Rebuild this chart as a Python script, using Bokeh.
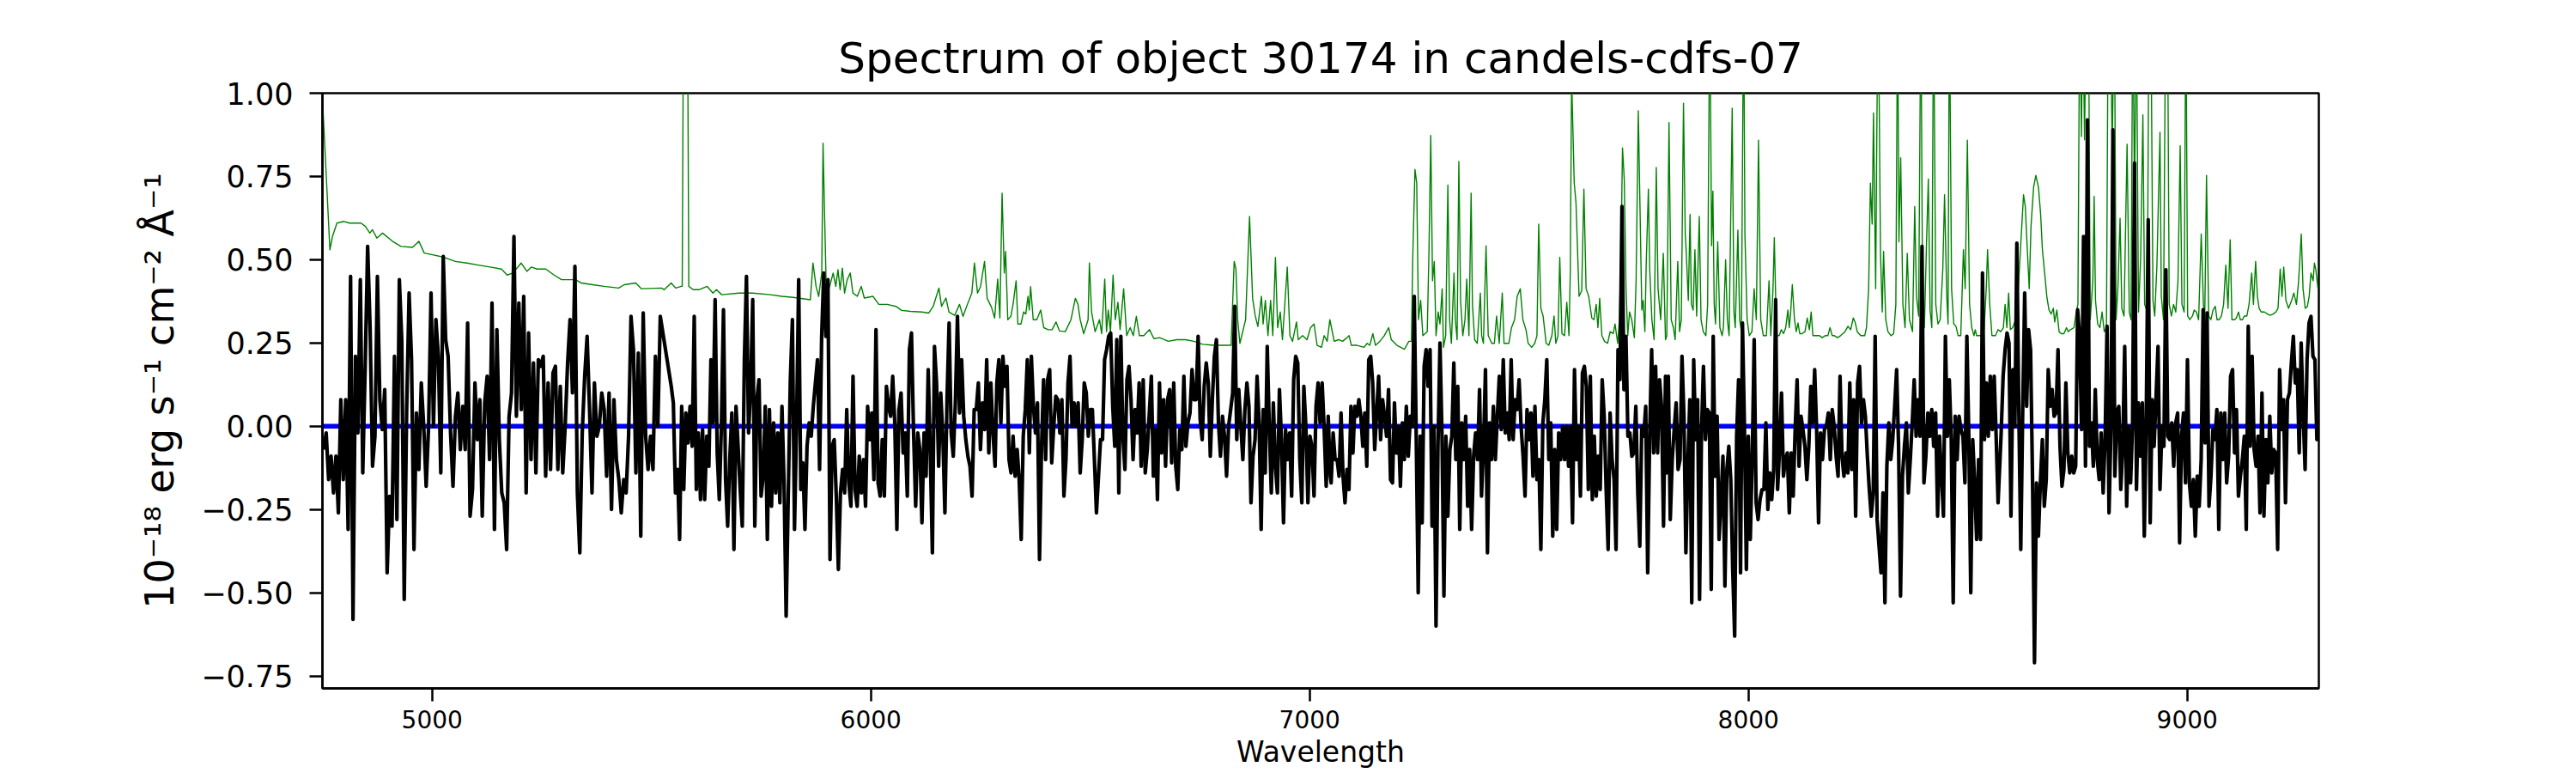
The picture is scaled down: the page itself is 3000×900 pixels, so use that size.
import numpy as np
from bokeh.plotting import figure
from bokeh.models import Range1d, FixedTicker, CustomJSTickFormatter
from bokeh.embed import file_html
from bokeh.resources import INLINE

TITLE = "Spectrum of object 30174 in candels-cdfs-07"
XLABEL = "Wavelength"
YLABEL = "10\u207b\u00b9\u2078 erg s\u207b\u00b9 cm\u207b\u00b2 \u00c5\u207b\u00b9"

x_ticks = [5000, 6000, 7000, 8000, 9000]
y_ticks = [-0.75, -0.5, -0.25, 0.0, 0.25, 0.5, 0.75, 1.0]

# flux, in six wavelength stretches
sec_ranges = [(4753, 5520), (5545, 6283), (6287, 7047), (7049, 7811), (7813, 8569), (8576, 9300)]

flux_s1 = [-0.07,-0.02,-0.16,-0.09,-0.20,-0.09,-0.26,0.08,-0.16,0.08,-0.31,0.45,-0.58,0.21,-0.02,0.44,-0.14,0.18,0.54,0.30,
           -0.12,-0.03,0.45,0.08,-0.01,0.11,-0.44,-0.21,-0.30,0.21,-0.28,0.44,0.26,-0.52,0.05,0.40,0.20,-0.37,0.04,-0.13,
           0.13,0.00,-0.18,0.00,0.40,0.00,0.32,0.21,-0.14,0.51,0.26,0.21,-0.02,-0.18,0.03,0.10,-0.07,0.06,-0.07,0.31,
           -0.27,-0.19,0.13,-0.04,0.08,-0.27,0.07,0.15,-0.10,0.37,-0.31,0.29,-0.04,-0.20,-0.23,-0.37,0.03,0.10,0.57,0.03,
           0.37,0.05,0.39,-0.20,0.28,-0.10,0.19,-0.14,0.20,0.18,0.21,-0.15,0.13,-0.13,0.16,0.18,-0.13,0.12,-0.14,0.00,
           0.19,0.32,0.10,0.48,-0.20,-0.38,-0.02,0.15,0.27,0.05,-0.20,0.13,-0.03,0.00,0.10,0.05,-0.15,0.10,-0.25,0.08,
           -0.10,-0.16,-0.26,-0.16,-0.20,-0.03,0.33,0.23,-0.14,0.22,-0.33,0.34,-0.03,-0.13,-0.03,-0.13,0.21,0.00,0.33]

flux_s2 = [0.12,0.07,-0.20,-0.13,-0.34,0.06,-0.19,0.04,-0.05,0.06,-0.06,0.33,-0.19,-0.02,-0.22,-0.01,-0.22,-0.03,-0.12,0.20,
           0.01,0.38,-0.08,-0.22,0.00,0.35,-0.16,-0.30,-0.10,0.04,-0.37,0.06,-0.06,-0.19,-0.30,0.20,0.45,-0.02,0.11,0.38,
           -0.30,0.08,0.14,-0.21,-0.15,0.06,-0.34,0.05,-0.24,0.01,-0.20,-0.02,-0.23,0.06,-0.17,-0.57,-0.21,0.14,0.32,-0.31,
           0.01,0.44,-0.19,-0.11,-0.31,-0.06,0.01,-0.03,0.06,0.13,0.20,-0.13,0.27,0.46,0.27,0.44,-0.40,-0.06,-0.04,-0.21,
           -0.43,-0.20,-0.13,-0.20,0.05,-0.17,-0.24,0.15,-0.19,-0.24,-0.09,-0.20,-0.10,-0.24,0.06,-0.04,0.04,-0.16,0.29,-0.17,
           -0.21,-0.04,-0.21,0.12,0.06,0.03,0.15,0.01,-0.31,0.05,0.10,-0.08,-0.02,-0.21,0.23,0.28,-0.02,-0.24,-0.02,-0.07,
           -0.29,-0.02,-0.15,0.17,-0.08,-0.38,0.24,0.13,-0.12,0.10,-0.03,-0.26,0.08,0.31,-0.02,-0.09,0.07,0.33,0.04,0.20,
           0.03,-0.04,-0.09,-0.12,-0.21,0.05,0.05,0.13,-0.07,0.07,-0.01,0.20,-0.08,0.13,-0.02,-0.12]

flux_s3 = [0.13,0.20,0.01,0.21,0.12,0.18,-0.10,-0.14,-0.03,-0.15,-0.07,-0.16,-0.34,-0.03,0.05,0.20,-0.08,0.21,0.06,-0.02,
           0.07,-0.40,-0.06,0.14,-0.10,0.14,0.17,-0.11,0.00,0.09,0.08,-0.02,0.08,-0.21,-0.10,0.13,0.21,0.00,0.07,0.00,
           0.07,-0.14,-0.04,0.13,0.10,-0.03,0.05,0.05,-0.10,-0.26,-0.15,-0.04,-0.04,0.20,0.23,0.27,0.28,0.06,-0.06,0.26,
           -0.20,0.27,-0.03,-0.13,0.14,0.18,0.08,-0.10,0.05,-0.02,0.13,-0.12,0.14,-0.14,-0.07,0.04,0.15,-0.15,-0.01,-0.22,
           0.13,-0.08,0.08,-0.12,0.08,0.11,-0.11,0.13,-0.12,-0.19,-0.01,-0.07,0.15,-0.06,0.01,0.04,0.17,0.08,0.08,0.27,
           0.02,-0.04,0.12,0.19,0.13,-0.09,0.08,0.21,0.26,0.01,-0.09,0.03,-0.03,-0.15,0.00,0.05,0.10,0.36,-0.04,0.11,
           0.00,-0.10,0.05,0.13,0.06,-0.23,-0.09,-0.04,0.15,0.01,-0.31,0.05,-0.14,0.24,0.00,-0.20,0.07,-0.12,-0.20,0.11,
           -0.04,-0.29,-0.01,-0.10,-0.02,-0.21,0.14,0.21,0.19,-0.10,-0.23,0.12,0.00,-0.23,-0.03,-0.06,-0.21,0.06,0.13,0.01,
           0.13,-0.01,-0.18,0.03,-0.15]

flux_s4 = [-0.17,-0.02,-0.10,-0.10,-0.15,0.04,-0.15,-0.23,-0.13,-0.19,0.06,-0.08,0.06,0.03,0.08,0.03,-0.06,0.04,-0.12,0.20,
           0.21,0.13,-0.07,0.04,0.15,-0.04,0.08,0.03,-0.03,0.11,-0.16,-0.17,0.07,-0.08,0.00,-0.18,0.01,-0.10,0.06,-0.09,
           0.03,0.00,0.39,-0.03,-0.50,-0.03,-0.29,0.18,0.23,0.12,0.23,-0.30,0.00,-0.60,-0.06,0.25,-0.02,-0.51,-0.03,-0.27,
           -0.07,-0.03,0.19,-0.10,0.12,-0.31,0.01,-0.10,0.03,-0.24,-0.07,-0.31,-0.09,-0.02,-0.10,0.11,-0.21,-0.06,0.17,-0.38,
           0.01,-0.10,0.06,-0.10,0.03,0.15,-0.01,0.20,-0.02,0.04,-0.04,0.20,-0.04,0.08,0.05,0.14,0.00,-0.09,-0.21,0.05,
           -0.04,0.04,-0.15,0.06,-0.16,-0.10,-0.37,0.01,0.08,0.20,-0.10,0.01,-0.33,-0.07,-0.31,-0.02,-0.10,0.00,-0.10,0.00,
           -0.12,0.00,-0.29,0.17,-0.10,0.00,-0.21,0.16,0.18,0.12,-0.19,0.15,-0.22,-0.03,-0.21,-0.09,-0.19,0.14,0.03,-0.19,
           -0.37,0.04,-0.10,-0.16,-0.37,0.23,0.14,0.66,0.11,0.27,-0.03,-0.02,-0.09,-0.08,0.06,-0.20,-0.36,0.00,-0.03,0.06,
           -0.44,-0.03,0.23,-0.08,0.18,-0.08,0.14,0.06,-0.30,0.15]

flux_s5 = [-0.14,0.15,-0.28,-0.10,-0.01,0.07,-0.13,-0.10,0.21,0.03,-0.38,-0.12,0.08,-0.53,0.20,-0.04,0.08,-0.52,-0.02,0.18,
           -0.04,0.05,0.04,-0.49,0.27,-0.15,0.03,-0.34,-0.22,-0.09,-0.48,-0.13,-0.06,-0.16,-0.43,-0.63,-0.03,0.14,-0.44,0.31,
           0.00,-0.43,-0.03,-0.34,-0.10,0.26,-0.23,-0.28,-0.22,-0.19,-0.19,0.01,-0.25,-0.14,-0.22,-0.13,0.38,-0.19,-0.07,0.10,
           -0.15,-0.10,-0.08,-0.26,-0.08,-0.21,-0.01,0.14,-0.12,0.03,-0.01,-0.06,-0.16,-0.06,0.12,0.01,0.17,-0.01,-0.29,-0.02,
           -0.10,-0.01,0.00,0.04,-0.10,0.05,0.00,-0.09,-0.15,0.15,-0.09,-0.15,-0.08,-0.14,0.13,-0.13,0.08,-0.27,0.13,0.18,
           0.01,0.08,0.03,-0.09,-0.19,-0.27,-0.20,0.27,-0.28,-0.36,-0.44,-0.20,-0.53,-0.12,0.01,-0.10,-0.04,0.06,0.17,-0.06,
           -0.51,-0.15,-0.06,0.01,-0.20,-0.10,0.01,0.14,-0.03,0.08,-0.03,0.54,-0.17,-0.09,0.04,-0.03,0.05,-0.06,0.04,-0.27,
           -0.03,-0.15,-0.27,0.27,-0.03,0.14,-0.04,-0.53,0.03,-0.10,0.03,-0.01,-0.03,-0.17,0.27,-0.03,-0.50,-0.04,-0.17,-0.34,
           -0.10,-0.34,0.46,-0.04,0.13,-0.03,0.15,-0.01,0.15,-0.03,-0.23]

flux_s6 = [-0.02,0.15,0.23,0.28,0.25,-0.27,0.17,0.00,0.55,0.05,-0.37,0.05,0.40,0.06,0.29,0.23,-0.16,-0.71,-0.17,-0.33,
           -0.17,-0.04,-0.24,-0.16,0.17,0.06,0.11,0.03,0.04,0.23,-0.06,-0.18,-0.13,0.13,-0.08,-0.14,-0.09,-0.14,-0.12,0.35,
           0.27,-0.01,0.57,-0.12,0.92,-0.06,0.01,-0.12,0.11,-0.10,-0.16,-0.02,-0.20,-0.04,0.30,-0.26,-0.01,0.89,-0.15,0.04,
           0.06,-0.19,-0.07,0.24,-0.24,0.00,-0.17,0.00,0.79,-0.19,0.07,-0.09,0.07,-0.33,0.03,0.62,-0.29,0.08,-0.06,0.09,
           0.24,-0.19,0.00,-0.06,0.47,-0.03,-0.04,0.01,-0.12,0.01,0.04,-0.35,-0.03,0.04,-0.17,0.20,-0.17,-0.24,-0.16,-0.33,
           -0.15,-0.24,-0.10,0.35,-0.05,0.34,-0.24,-0.15,-0.01,-0.04,0.05,-0.31,0.04,-0.10,0.04,-0.17,-0.09,0.15,0.17,-0.08,
           0.05,-0.21,-0.15,-0.10,-0.03,-0.31,0.30,-0.06,0.21,-0.07,-0.12,-0.03,-0.26,0.10,-0.27,-0.04,-0.17,0.03,-0.14,-0.07,
           -0.08,-0.37,0.17,-0.01,0.08,-0.23,0.08,0.10,0.19,0.27,0.13,0.17,-0.08,0.25,0.04,-0.13,0.20,0.31,0.33,0.21,
           0.20,-0.04,0.00]

# error spectrum (green), wavelength / value pairs
err_wave = [4751,4767,4773,4783,4799,4812,4838,4848,4858,4864,4874,4887,4910,4929,4955,4970,4982,5001,5027,5053,
            5079,5105,5132,5158,5171,5184,5203,5216,5226,5239,5259,5278,5295,5327,5340,5366,5392,5425,5438,5464,
            5477,5523,5529,5545,5555,5568,5570,5574,5581,5585,5595,5608,5627,5640,5648,5660,5699,5731,5771,5797,
            5823,5862,5868,5875,5881,5888,5891,5894,5898,5904,5914,5920,5925,5930,5935,5940,5946,5953,5959,5969,
            5978,5985,6005,6018,6037,6057,6070,6090,6116,6132,6142,6155,6161,6171,6178,6191,6202,6210,6220,6230,
            6236,6243,6250,6259,6265,6275,6282,
            6289,6294,6299,6304,6307,6312,6319,6324,6331,6335,6342,6348,6353,6358,6361,6364,6370,6378,6387,6394,
            6404,6413,6422,6430,6443,6456,6466,6472,6477,6485,6495,6498,6503,6511,6521,6526,6533,6537,6541,6546,
            6552,6557,6563,6568,6576,6583,6591,6598,6605,6612,6622,6635,6645,6658,6678,6697,6717,6736,6756,6782,
            6802,6821,6828,6832,6836,6841,6854,6863,6870,6876,6882,6890,6894,6899,6905,6911,6916,6922,6927,6933,
            6938,6949,6955,6961,6970,6974,6984,6994,7002,7010,7017,7027,7033,7040,7046,
            7048,7056,7066,7075,7085,7090,7095,7108,7124,7131,7137,7144,7150,7160,7170,7180,7186,7199,7216,7226,
            7232,7235,7240,7244,7248,7253,7258,7268,7272,7276,7280,7284,7288,7293,7297,7302,7305,7310,7315,7319,
            7323,7329,7332,7336,7340,7344,7349,7354,7358,7363,7368,7371,7376,7382,7389,7392,7396,7402,7407,7415,
            7421,7426,7432,7439,7443,7454,7460,7467,7473,7480,7486,7493,7498,7506,7513,7518,7522,7527,7532,7539,
            7545,7552,7557,7561,7566,7570,7575,7581,7586,7591,7594,7597,7603,7607,7614,7620,7625,7630,7636,7643,
            7648,7653,7657,7661,7666,7672,7679,7685,7692,7696,7702,7706,7710,7713,7717,7721,7725,7729,7734,7740,
            7744,7749,7753,7757,7760,7764,7767,7772,7775,7780,7785,7790,7794,7800,7806,7811,
            7814,7819,7824,7829,7833,7839,7843,7847,7852,7856,7858,7863,7867,7870,7874,7878,7882,7888,7892,7897,
            7903,7907,7912,7916,7919,7922,7925,7930,7935,7940,7943,7948,7952,7956,7963,7967,7970,7976,7980,7984,
            7989,7992,7997,8002,8008,8013,8018,8023,8028,8034,8041,8047,8051,8056,8059,8064,8070,8075,8080,8085,
            8090,8093,8096,8100,8105,8109,8113,8117,8122,8129,8134,8139,8143,8147,8155,8162,8168,8175,8181,8186,
            8191,8196,8203,8210,8220,8227,8233,8239,8243,8248,8256,8265,8269,8274,8278,8282,8285,8290,8293,8296,
            8301,8305,8308,8313,8318,8325,8331,8336,8340,8343,8347,8352,8357,8362,8367,8374,8379,8383,8388,8393,
            8397,8401,8406,8410,8414,8418,8422,8427,8432,8437,8443,8447,8452,8455,8458,8463,8468,8473,8478,8484,
            8490,8494,8499,8504,8509,8514,8517,8520,8525,8530,8537,8542,8545,8550,8555,8563,8569,8575,
            8581,8585,8589,8593,8597,8602,8609,8615,8622,8627,8631,8636,8640,8644,8650,8655,8661,8666,8670,8676,
            8680,8685,8690,8695,8698,8703,8708,8713,8719,8725,8729,8734,8742,8747,8751,8755,8759,8762,8766,8770,
            8775,8779,8785,8788,8791,8796,8801,8806,8811,8816,8820,8825,8829,8834,8838,8842,8847,8851,8856,8863,
            8868,8872,8876,8880,8884,8889,8894,8899,8903,8909,8913,8917,8922,8926,8931,8938,8941,8946,8951,8955,
            8959,8964,8969,8974,8979,8984,8988,8993,8997,9001,9006,9012,9016,9021,9026,9032,9037,9040,9044,9049,
            9054,9059,9064,9068,9073,9078,9083,9088,9093,9098,9102,9108,9112,9117,9121,9126,9130,9136,9141,9147,
            9151,9156,9160,9164,9169,9176,9183,9189,9196,9202,9207,9212,9216,9220,9225,9231,9238,9243,9249,9254,
            9260,9264,9269,9274,9278,9282,9287,9290,9293,9298]

err_flux = [0.96,0.53,0.57,0.61,0.615,0.61,0.61,0.60,0.58,0.59,0.565,0.58,0.555,0.54,0.537,0.555,0.52,0.515,0.507,0.495,
            0.49,0.484,0.478,0.472,0.454,0.46,0.49,0.465,0.478,0.472,0.472,0.454,0.44,0.44,0.43,0.425,0.42,0.415,0.425,0.43,
            0.413,0.415,0.41,0.43,0.415,0.42,0.42,1.6,1.6,0.42,0.41,0.41,0.42,0.40,0.41,0.395,0.40,0.40,0.395,0.39,
            0.387,0.38,0.49,0.42,0.39,0.46,0.85,0.66,0.43,0.41,0.46,0.42,0.47,0.41,0.475,0.40,0.44,0.46,0.40,0.39,
            0.42,0.385,0.39,0.366,0.366,0.36,0.348,0.345,0.343,0.34,0.36,0.415,0.36,0.385,0.343,0.333,0.366,0.33,0.366,0.40,
            0.49,0.40,0.42,0.495,0.384,0.357,0.325,
            0.442,0.325,0.70,0.46,0.525,0.32,0.33,0.366,0.437,0.307,0.307,0.343,0.337,0.39,0.349,0.419,0.32,0.32,0.349,0.296,
            0.29,0.29,0.313,0.286,0.284,0.32,0.384,0.366,0.32,0.278,0.32,0.49,0.343,0.284,0.32,0.278,0.442,0.284,0.349,0.284,
            0.454,0.32,0.372,0.29,0.413,0.272,0.296,0.272,0.33,0.272,0.272,0.29,0.263,0.266,0.255,0.26,0.26,0.255,0.246,0.243,
            0.243,0.243,0.495,0.472,0.32,0.249,0.32,0.63,0.384,0.331,0.30,0.39,0.307,0.378,0.272,0.378,0.272,0.507,0.296,0.343,
            0.26,0.478,0.272,0.255,0.313,0.26,0.272,0.26,0.296,0.307,0.243,0.237,0.272,0.255,0.32,
            0.307,0.255,0.26,0.255,0.266,0.272,0.243,0.243,0.237,0.249,0.243,0.278,0.243,0.255,0.272,0.296,0.26,0.243,0.231,0.255,
            0.255,0.507,0.771,0.73,0.32,0.378,0.272,0.284,0.53,0.873,0.437,0.495,0.272,0.343,0.307,0.413,0.237,0.272,0.724,0.32,
            0.249,0.46,0.32,0.26,0.795,0.378,0.272,0.32,0.442,0.272,0.70,0.366,0.26,0.249,0.40,0.272,0.249,0.542,0.272,0.249,
            0.249,0.331,0.249,0.40,0.249,0.249,0.296,0.32,0.39,0.413,0.32,0.29,0.249,0.237,0.249,0.272,0.607,0.354,0.331,0.249,
            0.243,0.272,0.331,0.249,0.272,0.507,0.278,0.272,0.372,0.272,0.46,1.05,0.73,0.671,0.39,0.407,0.712,0.413,0.39,0.325,
            0.32,0.366,0.296,0.384,0.272,0.255,0.249,0.284,0.278,0.307,0.249,0.32,0.56,0.836,0.742,0.413,0.272,0.343,0.32,0.266,
            0.437,0.947,0.648,0.349,0.378,0.284,0.484,0.712,0.472,0.32,0.26,0.777,0.413,0.32,0.519,0.26,
            0.272,0.912,0.32,0.296,0.26,0.495,0.284,0.32,0.97,0.577,0.53,0.378,0.636,0.366,0.349,0.53,0.331,0.63,0.32,0.284,
            0.272,0.366,1.3,0.542,0.706,0.366,0.307,0.554,0.296,0.272,0.296,0.50,0.32,0.272,0.955,0.343,0.296,0.589,0.32,0.284,
            1.3,0.577,0.32,0.272,0.284,0.413,0.32,0.859,0.32,0.272,0.272,0.437,0.272,0.413,0.566,0.272,0.272,0.29,0.278,0.296,
            0.349,0.296,0.337,0.425,0.32,0.284,0.31,0.278,0.278,0.284,0.325,0.29,0.343,0.272,0.272,0.272,0.266,0.272,0.272,0.296,
            0.272,0.272,0.266,0.272,0.284,0.30,0.29,0.325,0.313,0.284,0.272,0.272,0.296,0.413,0.73,0.607,0.941,0.413,0.941,1.3,
            0.519,0.343,0.525,0.32,0.284,0.272,0.278,0.366,1.3,0.554,0.806,0.366,0.296,0.519,0.32,0.284,0.66,0.39,0.331,1.3,
            0.366,0.296,0.554,0.742,0.349,0.296,1.3,0.366,0.307,0.32,0.472,0.695,0.39,0.307,1.3,0.413,0.307,0.30,0.272,0.272,
            0.53,0.413,0.859,0.366,0.296,0.272,0.29,0.272,0.272,0.272,0.29,0.413,0.53,0.366,0.272,0.272,0.29,0.284,
            0.296,0.366,0.296,0.40,0.29,0.296,0.32,0.413,0.577,0.695,0.66,0.519,0.413,0.60,0.718,0.753,0.718,0.636,0.53,0.448,
            0.39,0.349,0.337,0.354,0.313,0.349,0.284,0.278,0.278,0.296,0.284,0.29,0.296,0.343,0.366,1.3,0.87,1.3,0.86,1.3,
            1.3,0.32,0.437,0.69,0.378,0.307,0.296,0.343,0.284,0.296,1.3,1.3,0.824,1.3,0.32,0.413,0.624,0.354,0.331,0.847,
            0.343,0.32,1.3,0.671,1.3,0.343,0.507,0.935,0.366,0.343,1.3,1.3,0.378,0.331,0.484,0.883,0.39,0.32,1.3,1.3,
            0.366,0.331,0.366,0.343,0.437,0.842,0.366,0.343,1.3,0.331,0.32,0.331,0.349,0.343,0.32,0.577,0.366,0.32,0.753,0.331,
            0.32,0.349,0.36,0.32,0.32,0.331,0.366,0.484,0.354,0.56,0.32,0.32,0.325,0.343,0.32,0.32,0.331,0.331,0.366,0.46,
            0.366,0.495,0.39,0.354,0.343,0.343,0.337,0.333,0.337,0.343,0.354,0.472,0.39,0.478,0.378,0.354,0.378,0.40,0.366,0.437,
            0.577,0.413,0.354,0.36,0.39,0.46,0.437,0.49,0.472,0.413]

wave = np.concatenate([np.linspace(a, b, len(f)) for (a, b), f in
                       zip(sec_ranges, [flux_s1, flux_s2, flux_s3, flux_s4, flux_s5, flux_s6])])
flux = np.concatenate([flux_s1, flux_s2, flux_s3, flux_s4, flux_s5, flux_s6])

FONT = "DejaVu Sans"

p = figure(width=2992, height=906, output_backend="svg", toolbar_location=None,
           x_range=Range1d(4750, 9300), y_range=Range1d(-0.787, 1.0),
           min_border_left=375, min_border_right=292, min_border_top=108, min_border_bottom=105,
           background_fill_color="white", border_fill_color="white")
p.title.text = TITLE
p.title.align = "center"
p.title.text_font = FONT
p.title.text_font_size = "50px"
p.title.text_font_style = "normal"
p.title.text_color = "black"
p.title.standoff = 23

p.grid.visible = False
p.outline_line_color = "black"
p.outline_line_width = 2.5

for ax in (p.xaxis[0], p.yaxis[0]):
    ax.axis_line_width = 2.5
    ax.axis_line_color = "black"
    ax.major_tick_line_width = 2.5
    ax.major_tick_line_color = "black"
    ax.major_tick_in = 0
    ax.minor_tick_line_color = None
    ax.major_label_text_font = FONT
    ax.major_label_text_color = "black"
    ax.axis_label_text_font = FONT
    ax.axis_label_text_font_style = "normal"
    ax.axis_label_text_color = "black"

p.xaxis.ticker = FixedTicker(ticks=x_ticks)
p.xaxis.major_tick_out = 15
p.xaxis.major_label_text_font_size = "28px"
p.xaxis.major_label_standoff = 10
p.xaxis.axis_label = XLABEL
p.xaxis.axis_label_text_font_size = "33px"
p.xaxis.axis_label_standoff = 5

p.yaxis.ticker = FixedTicker(ticks=y_ticks)
p.yaxis.formatter = CustomJSTickFormatter(code="return tick.toFixed(2).replace('-', '\\u2212');")
p.yaxis.major_tick_out = 15
p.yaxis.major_label_text_font_size = "35px"
p.yaxis.major_label_standoff = 19
p.yaxis.axis_label = YLABEL
p.yaxis.axis_label_text_font_size = "46px"
p.yaxis.axis_label_standoff = 18

p.line([4750, 9300], [0, 0], line_color="#0000ff", line_width=5.5)
p.line(err_wave, err_flux, line_color="#008000", line_width=1.4, line_join="round")
p.line(wave, flux, line_color="black", line_width=4.2, line_join="round")

open("out.html", "w").write(file_html(p, INLINE))
